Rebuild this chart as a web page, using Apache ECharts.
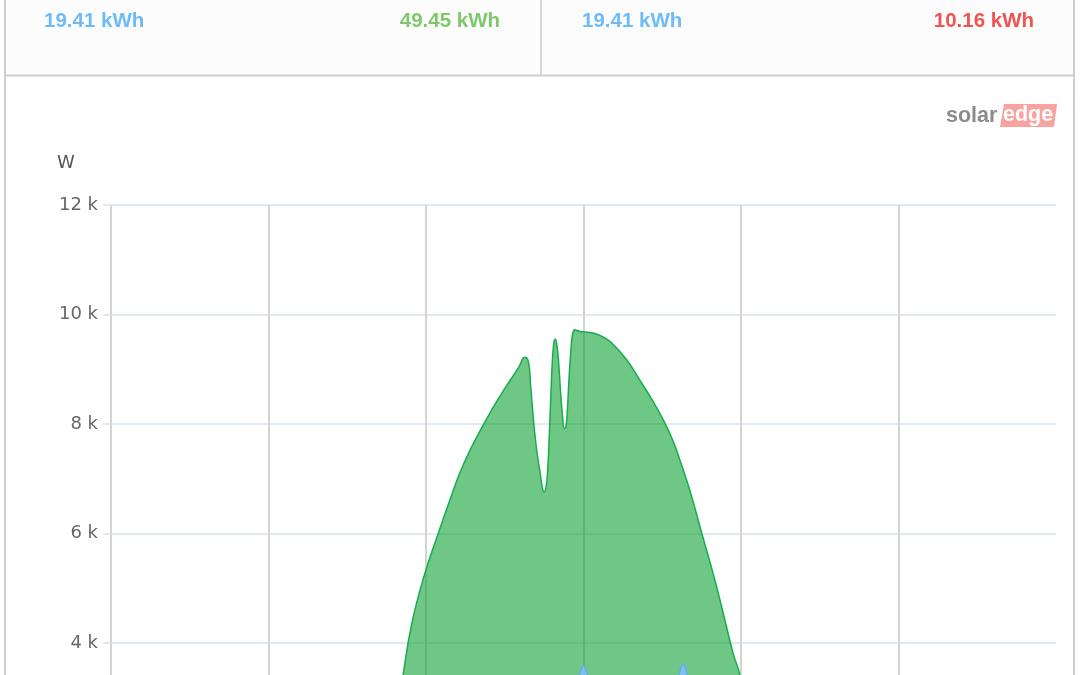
<!DOCTYPE html>
<html>
<head>
<meta charset="utf-8">
<script src="https://cdn.jsdelivr.net/npm/echarts/dist/echarts.min.js"></script>
<style>
html,body{margin:0;padding:0;width:1080px;height:675px;overflow:hidden;background:#fff}
#c{position:absolute;left:0;top:0;width:1080px;height:920px}
</style>
</head>
<body>
<div id="c"></div>
<script>
// ---- data ----
const productionHours = [0, 5.25, 5.75, 6.25, 6.75, 7.0, 7.2, 7.42, 7.64, 7.97, 8.31, 8.65, 8.86, 9.12, 9.37, 9.63, 9.88, 10.13, 10.35, 10.51, 10.60, 10.66, 10.73, 10.81, 10.90, 10.96, 11.00, 11.05, 11.09, 11.13, 11.17, 11.21, 11.25, 11.28, 11.32, 11.37, 11.42, 11.47, 11.51, 11.55, 11.59, 11.63, 11.68, 11.72, 11.78, 11.91, 12.17, 12.34, 12.52, 12.72, 13.10, 13.43, 13.77, 14.03, 14.28, 14.45, 14.70, 14.96, 15.38, 15.80, 15.97, 16.2, 16.5, 17.0, 17.5, 18.0, 18.5, 24];
const productionW = [0, 0, 50, 300, 900, 1500, 2300, 3420, 4360, 5270, 6000, 6700, 7110, 7525, 7870, 8210, 8510, 8790, 9030, 9220, 9140, 8680, 8070, 7530, 7100, 6820, 6760, 6850, 7160, 7770, 8500, 9170, 9500, 9550, 9470, 9110, 8560, 8130, 7920, 7940, 8260, 8800, 9350, 9630, 9720, 9690, 9670, 9640, 9580, 9480, 9170, 8800, 8410, 8070, 7680, 7340, 6790, 6120, 5030, 3810, 3420, 2500, 1600, 700, 250, 60, 0, 0];
const consumptionHours = [0, 3, 6, 7.5, 9, 10.5, 11.7, 11.82, 11.9, 12.0, 12.1, 12.18, 12.3, 13.5, 14.23, 14.35, 14.43, 14.53, 14.63, 14.71, 14.83, 16.5, 18.5, 20, 22, 24];
const consumptionW = [600, 500, 650, 900, 1000, 1100, 1200, 2600, 3400, 3580, 3400, 2600, 1200, 1100, 1200, 2600, 3420, 3610, 3420, 2600, 1250, 1300, 1600, 1300, 800, 600];
const yTickValues = [0, 2000, 4000, 6000, 8000, 10000, 12000];
const xTickHours = [0, 4, 8, 12, 16, 20, 24];
const leftPanelValues = ['19.41 kWh', '49.45 kWh'];
const rightPanelValues = ['19.41 kWh', '10.16 kWh'];
const unitLabel = 'W';

const production = productionHours.map((h, i) => [h, productionW[i]]);
const consumption = consumptionHours.map((h, i) => [h, consumptionW[i]]);

const chart = echarts.init(document.getElementById('c'), null, {renderer: 'canvas'});
const border = '#cfcfcf';
const valFont = 'bold 20.5px "Liberation Sans", Arial, sans-serif';

chart.setOption({
  animation: false,
  backgroundColor: '#ffffff',
  grid: {left: 111, right: 24, top: 205, bottom: 58},
  xAxis: {
    type: 'value', min: xTickHours[0], max: xTickHours[xTickHours.length - 1], interval: 4,
    axisLine: {show: false}, axisTick: {show: false},
    axisLabel: {formatter: v => (v < 10 ? '0' : '') + v + ':00', color: '#666'},
    splitLine: {show: true, showMinLine: true, showMaxLine: false, lineStyle: {color: '#d3d3d3', width: 2}}
  },
  yAxis: {
    type: 'value', min: yTickValues[0], max: yTickValues[yTickValues.length - 1], interval: 2000,
    axisLine: {show: false},
    axisTick: {show: true, length: 8, lineStyle: {color: '#e1e9f2', width: 2}},
    axisLabel: {
      formatter: v => v === 0 ? '0' : (v / 1000) + ' k',
      color: '#666', fontSize: 18, fontFamily: '"DejaVu Sans", sans-serif', margin: 13
    },
    splitLine: {show: true, lineStyle: {color: '#e1e9f2', width: 2}}
  },
  series: [
    {
      name: 'Production', type: 'line', data: production, smooth: 0.45, symbol: 'none', z: 3,
      lineStyle: {color: '#17ad4f', width: 1.5},
      areaStyle: {color: 'rgba(15,162,52,0.6)', opacity: 1}
    },
    {
      name: 'Consumption', type: 'line', data: consumption, smooth: 0.4, symbol: 'none', z: 4,
      lineStyle: {color: '#5eb0ec', width: 1.5},
      areaStyle: {color: 'rgba(125,192,245,0.9)', opacity: 1}
    }
  ],
  graphic: [
    // top summary panels
    {type: 'rect', shape: {x: 5, y: -10, width: 1068, height: 85}, style: {fill: '#fcfcfc'}, z: 1},
    {type: 'line', shape: {x1: 5, y1: -10, x2: 5, y2: 920}, style: {stroke: border, lineWidth: 2}, z: 10},
    {type: 'line', shape: {x1: 1074, y1: -10, x2: 1074, y2: 920}, style: {stroke: border, lineWidth: 2}, z: 10},
    {type: 'line', shape: {x1: 541, y1: -10, x2: 541, y2: 75}, style: {stroke: '#d6d6d6', lineWidth: 2}, z: 10},
    {type: 'line', shape: {x1: 5, y1: 75.5, x2: 1074, y2: 75.5}, style: {stroke: border, lineWidth: 2}, z: 10},
    {type: 'text', style: {text: leftPanelValues[0], x: 44, y: 21, textAlign: 'left', textVerticalAlign: 'middle', fill: '#6dbcf8', font: valFont}, z: 10},
    {type: 'text', style: {text: leftPanelValues[1], x: 500, y: 21, textAlign: 'right', textVerticalAlign: 'middle', fill: '#7fc86a', font: valFont}, z: 10},
    {type: 'text', style: {text: rightPanelValues[0], x: 582, y: 21, textAlign: 'left', textVerticalAlign: 'middle', fill: '#6dbcf8', font: valFont}, z: 10},
    {type: 'text', style: {text: rightPanelValues[1], x: 1034, y: 21, textAlign: 'right', textVerticalAlign: 'middle', fill: '#f05450', font: valFont}, z: 10},
    // unit label
    {type: 'text', style: {text: unitLabel, x: 66, y: 163, textAlign: 'center', textVerticalAlign: 'middle', fill: '#555', font: '18px "DejaVu Sans", sans-serif'}, z: 10},
    // logo
    {type: 'text', style: {text: 'solar', x: 946, y: 116, textAlign: 'left', textVerticalAlign: 'middle', fill: '#8b8b8b', font: 'bold 21.5px "Liberation Sans", Arial, sans-serif'}, z: 10},
    {type: 'polygon', shape: {points: [[1004, 104], [1057, 104], [1054, 127], [1000, 127]]}, style: {fill: '#f8a3a0'}, z: 10},
    {type: 'text', style: {text: 'edge', x: 1003, y: 115, textAlign: 'left', textVerticalAlign: 'middle', fill: '#ffffff', font: 'bold 21.5px "Liberation Sans", Arial, sans-serif'}, z: 11}
  ]
});
</script>
</body>
</html>
